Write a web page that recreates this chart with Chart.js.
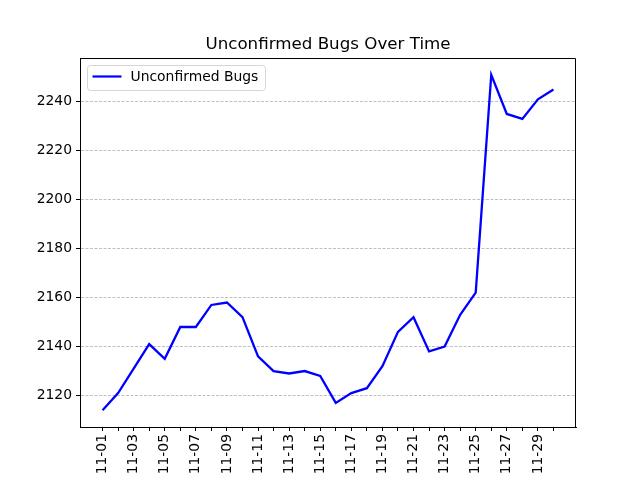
<!DOCTYPE html>
<html>
<head>
  <title>Unconfirmed Bugs Over Time</title>
  <script src="https://cdn.jsdelivr.net/npm/chart.js"></script>
  <style>
    html, body { margin: 0; padding: 0; background: white; }
    #wrap { width: 640px; height: 480px; }
  </style>
</head>
<body>
<div id="wrap"><canvas id="bugChart" width="640" height="480"></canvas></div>

<script>
const dates = ['11-01','11-02','11-03','11-04','11-05','11-06','11-07','11-08','11-09','11-10',
  '11-11','11-12','11-13','11-14','11-15','11-16','11-17','11-18','11-19','11-20',
  '11-21','11-22','11-23','11-24','11-25','11-26','11-27','11-28','11-29','11-30'];
const unconfirmed = [2114, 2121, 2131, 2141, 2135, 2148, 2148, 2157, 2158, 2152,
  2136, 2130, 2129, 2130, 2128, 2117, 2121, 2123, 2132, 2146,
  2152, 2138, 2140, 2153, 2162, 2251, 2235, 2233, 2241, 2245];
const yTicks = [2120, 2140, 2160, 2180, 2200, 2220, 2240];

const FONT = "'DejaVu Sans', sans-serif";

// title, legend and the full axes frame like matplotlib
const decor = {
  id: 'decor',
  afterDraw(chart) {
    const ctx = chart.ctx;
    const a = chart.chartArea;
    ctx.save();
    ctx.strokeStyle = '#000';
    ctx.lineWidth = 1;
    ctx.beginPath();
    ctx.moveTo(Math.round(a.left) + 0.5, Math.round(a.top) + 0.5);
    ctx.lineTo(Math.round(a.right) - 0.5, Math.round(a.top) + 0.5);
    ctx.lineTo(Math.round(a.right) - 0.5, Math.round(a.bottom) + 0.5);
    ctx.stroke();

    ctx.fillStyle = '#000';
    ctx.font = '16.7px ' + FONT;
    ctx.textAlign = 'center';
    ctx.textBaseline = 'alphabetic';
    ctx.fillText('Unconfirmed Bugs Over Time', (a.left + a.right) / 2, 49);

    // legend box
    const lx = a.left + 7.5, ly = a.top + 7.5, lw = 178, lh = 25;
    ctx.beginPath();
    ctx.roundRect(lx, ly, lw, lh, 3);
    ctx.fillStyle = 'rgba(255,255,255,0.8)';
    ctx.fill();
    ctx.strokeStyle = '#d6d6d6';
    ctx.lineWidth = 1;
    ctx.stroke();
    ctx.beginPath();
    ctx.moveTo(lx + 5, ly + 11);
    ctx.lineTo(lx + 34, ly + 11);
    ctx.strokeStyle = '#0000ff';
    ctx.lineWidth = 2.2;
    ctx.stroke();
    ctx.fillStyle = '#000';
    ctx.font = '13.9px ' + FONT;
    ctx.textAlign = 'left';
    ctx.textBaseline = 'middle';
    ctx.fillText('Unconfirmed Bugs', lx + 43, ly + 12);
    ctx.restore();
  }
};

new Chart(document.getElementById('bugChart'), {
  type: 'line',
  data: {
    datasets: [{
      label: 'Unconfirmed Bugs',
      data: unconfirmed.map((v, i) => ({ x: i, y: v })),
      borderColor: '#0000ff',
      borderWidth: 2.3,
      pointRadius: 0,
      tension: 0,
      fill: false
    }]
  },
  options: {
    responsive: false,
    animation: false,
    layout: { padding: { top: 58, right: 64, left: 0, bottom: 0 } },
    plugins: { legend: { display: false }, title: { display: false }, tooltip: { enabled: false } },
    scales: {
      x: {
        type: 'linear',
        min: -1.45,
        max: dates.length - 1 + 1.45,
        afterBuildTicks: s => { s.ticks = dates.map((d, i) => ({ value: i })); },
        afterFit: s => { s.height = 53; },
        grid: { drawOnChartArea: false, drawTicks: true, tickLength: 4, tickColor: '#000' },
        border: { display: true, color: '#000', width: 1 },
        ticks: {
          autoSkip: false,
          minRotation: 90,
          maxRotation: 90,
          padding: 3,
          color: '#000',
          font: { family: FONT, size: 13.9 },
          callback: v => (v % 2 === 0 ? dates[v] : '')
        }
      },
      y: {
        min: 2107.15,
        max: 2257.85,
        afterBuildTicks: s => { s.ticks = yTicks.map(v => ({ value: v })); },
        afterFit: s => { s.width = 80; },
        grid: {
          color: '#b0b0b0',
          lineWidth: 0.8,
          drawTicks: true,
          tickLength: 4,
          tickColor: '#000',
          tickBorderDash: [],
          tickWidth: 1
        },
        border: { display: true, color: '#000', width: 1, dash: [3, 1.5] },
        ticks: {
          padding: 4,
          color: '#000',
          font: { family: FONT, size: 13.9 },
          callback: v => String(v)
        }
      }
    }
  },
  plugins: [decor]
});
</script>
</body>
</html>
